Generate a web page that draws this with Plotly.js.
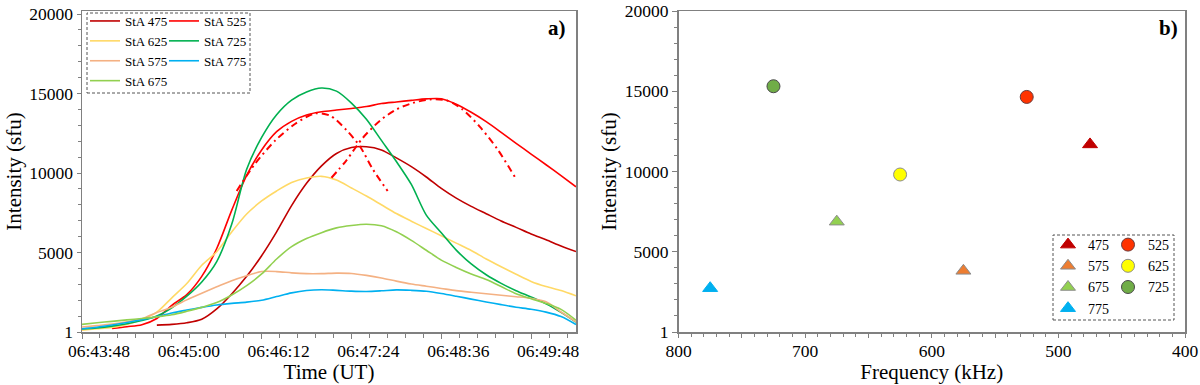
<!DOCTYPE html>
<html><head><meta charset="utf-8">
<script src="https://cdn.plot.ly/plotly-3.0.1.min.js"></script>
<style>html,body{margin:0;padding:0;background:#fff;} #chart{width:1200px;height:385px;}</style>
</head><body><div id="chart"></div>
<script>
// ---------- Panel a) time series ----------
const times = ["06:43:48","06:44:00","06:44:12","06:44:24","06:44:36","06:44:48","06:45:00","06:45:12","06:45:24","06:45:36",
               "06:45:48","06:46:00","06:46:12","06:46:24","06:46:36","06:46:48","06:47:00","06:47:12","06:47:24","06:47:36",
               "06:47:48","06:48:00","06:48:12","06:48:24","06:48:36","06:48:48","06:49:00","06:49:12","06:49:24","06:49:36",
               "06:49:48","06:50:00","06:50:12","06:50:24"];
const sta475 = [null,null,null,null,null,430,480,580,800,1450,2390,3500,4800,6300,7950,9350,10450,11230,11600,11650,
                11450,10950,10400,9750,9030,8420,7900,7440,6980,6580,6160,5800,5410,5060];
const sta525 = [null,null,220,330,460,850,1680,2350,3500,5250,7650,9850,11450,12600,13250,13650,13850,13960,14060,14180,
                14370,14470,14570,14660,14670,14330,13820,13230,12560,11870,11190,10520,9830,9130];
const sta625 = [120,200,290,480,780,1250,2150,3050,4200,5050,6290,7420,8240,8870,9400,9680,9790,9560,9060,8550,
                8000,7450,6970,6510,6050,5590,5130,4590,4100,3630,3180,2860,2610,2280];
const sta725 = [185,260,370,520,720,1000,1520,2250,3150,4430,6770,10230,12240,13670,14590,15100,15350,15150,14400,13380,
                12050,10720,9280,7350,6240,5150,4280,3600,3060,2600,2200,1770,1230,620];
const sta575 = [310,400,500,640,830,1230,1560,2020,2440,2840,3230,3540,3800,3800,3720,3670,3670,3700,3680,3560,
                3400,3200,3020,2880,2740,2600,2500,2410,2310,2220,2120,1900,1260,640];
const sta775 = [200,300,440,600,780,960,1200,1380,1550,1700,1800,1880,2000,2230,2460,2610,2660,2620,2570,2550,
                2590,2650,2620,2560,2420,2250,2070,1890,1720,1560,1430,1250,970,470];
const sta675 = [480,580,670,760,850,950,1080,1300,1550,1850,2330,2920,3650,4590,5370,5880,6250,6550,6700,6780,
                6680,6300,5760,5140,4520,4060,3650,3300,2860,2400,2090,1800,1420,740];
// dash-dot fits of the StA 525 profile
const fit1Times  = ["06:45:52","06:46:07","06:46:23","06:46:39","06:46:55","06:47:07","06:47:20","06:47:31","06:47:41","06:47:53"];
const fit1Values = [8870,10610,12050,13100,13750,13600,12700,11650,10250,8870];
const fit2Times  = ["06:47:08","06:47:20","06:47:33","06:47:47","06:48:00","06:48:13","06:48:27","06:48:41","06:48:53","06:49:07","06:49:21","06:49:35"];
const fit2Values = [9700,10800,12200,13300,14000,14400,14630,14550,14000,12900,11500,9750];

const seriesNames  = ["StA 475","StA 525","StA 625","StA 725","StA 575","StA 775","StA 675"];
const seriesValues = [sta475, sta525, sta625, sta725, sta575, sta775, sta675];
const seriesColors = ["#c00000","#ff0000","#ffd966","#00b050","#f4b183","#00b0f0","#92d050"];
const seriesLegend = ["legend","legend3","legend","legend3","legend","legend3","legend"];

// ---------- Panel b) peak intensity vs frequency ----------
const freqLabels    = ["475","525","575","625","675","725","775"];
const freqs         = [475,525,575,625,675,725,775];
const peakIntensity = [11688,14646,3812,9813,6875,15312,2729];
const peakSymbols   = ["triangle-up","circle","triangle-up","circle","triangle-up","circle","triangle-up"];
const peakColors    = ["#c00000","#ff3300","#ed7d31","#ffff00","#92d050","#70ad47","#00b0f0"];
const peakEdges     = ["#c00000","#6b3b3b","#8c8c8c","#8c8c8c","#8c8c8c","#4a4a4a","#00b0f0"];
const peakLegend    = ["legend2","legend4","legend2","legend4","legend2","legend4","legend2"];

const yTickAlias = {"0":"1"};
const xTickAlias = {"750":"","650":"","550":"","450":""};

const day = "2020-01-01 ";
const toDate = t => day + t;
const AX = "#808080";
const FONT = "'Liberation Serif', 'Times New Roman', serif";

const traces = [];
seriesNames.forEach((n, i) => {
  traces.push({type:"scatter", mode:"lines", name:n, x: times.map(toDate), y: seriesValues[i],
    line:{color: seriesColors[i], width: 1.6, shape:"spline", smoothing:0.8},
    xaxis:"x", yaxis:"y", legend: seriesLegend[i], connectgaps:false});
});
[[fit1Times, fit1Values],[fit2Times, fit2Values]].forEach(([t, v]) => {
  traces.push({type:"scatter", mode:"lines", x: t.map(toDate), y: v, showlegend:false,
    line:{color:"#ff0000", width:2, dash:"7px,4px,2px,4px", shape:"spline", smoothing:0.8},
    xaxis:"x", yaxis:"y"});
});
freqs.forEach((f, i) => {
  traces.push({type:"scatter", mode:"markers", name: freqLabels[i], x:[f], y:[peakIntensity[i]],
    marker:{symbol: peakSymbols[i], size: 13, color: peakColors[i],
            line:{color: peakEdges[i], width: 1}},
    xaxis:"x2", yaxis:"y2", legend: peakLegend[i]});
});

const yTop = 11, yBot = 332, H = 385, W = 1200;
const yDom = [(H - yBot)/H, (H - yTop)/H];
const leftRangeTop = 20000 * (yBot - yTop) / (yBot - 14);

const baseTick = {tickfont:{size:17.5, color:"#000", family:FONT}, showgrid:false, zeroline:false,
  tickcolor:AX, tickwidth:1};
const legendBase = {xanchor:"left", yanchor:"top", orientation:"v",
  bgcolor:"rgba(0,0,0,0)", borderwidth:0, tracegroupgap:0};

const layout = {
  width: W, height: H, margin:{l:0,r:0,t:0,b:0},
  paper_bgcolor:"#fff", plot_bgcolor:"#fff",
  font:{family:FONT, color:"#000"},
  hovermode:false,
  xaxis: Object.assign({}, baseTick, {
    domain:[82/W, 576/W], anchor:"y", type:"date",
    range:[toDate("06:43:48"), toDate("06:50:24")],
    tickmode:"linear", tick0: toDate("06:43:48"), dtick: 72000, tickformat:"%H:%M:%S",
    ticks:"outside", ticklen:5,
    minor:{tick0: toDate("06:43:48"), dtick:14400, ticks:"outside", ticklen:4, tickcolor:AX},
    showline:true, linecolor:AX, linewidth:1.5, mirror:true,
    ticklabelshift: 17, ticklabelstandoff: -3,
    title:{text:"Time (UT)", font:{size:21, family:FONT}, standoff:0}
  }),
  yaxis: Object.assign({}, baseTick, {
    domain: yDom, anchor:"x", range:[0, leftRangeTop],
    tickmode:"linear", tick0:0, dtick:5000, tickformat:"d",
    labelalias: yTickAlias,
    ticks:"outside", ticklen:4,
    minor:{dtick:1000, ticks:"outside", ticklen:3, tickcolor:AX},
    showline:true, linecolor:AX, linewidth:1.5, mirror:true,
    title:{text:"Intensity (sfu)", font:{size:21, family:FONT}, standoff:2}
  }),
  yaxis3: {overlaying:"y", anchor:"x", domain:yDom, range:[0, leftRangeTop], side:"left",
    tickmode:"linear", tick0:0, dtick:5000, ticks:"inside", ticklen:3, tickcolor:AX,
    minor:{dtick:1000, ticks:"inside", ticklen:3, tickcolor:AX},
    showticklabels:false, showline:false, showgrid:false, zeroline:false},
  xaxis2: Object.assign({}, baseTick, {
    domain:[678.5/W, 1185/W], anchor:"y2", range:[800, 400],
    tickmode:"linear", tick0:400, dtick:50, labelalias: xTickAlias,
    ticks:"outside", ticklen:4,
    minor:{dtick:10, ticks:"outside", ticklen:3, tickcolor:AX},
    showline:true, linecolor:AX, linewidth:1.5, mirror:true,
    ticklabelstandoff: -2,
    title:{text:"Frequency (kHz)", font:{size:21, family:FONT}, standoff:0}
  }),
  xaxis3: {overlaying:"x2", anchor:"y2", domain:[678.5/W, 1185/W], range:[800,400],
    tickmode:"linear", tick0:400, dtick:50, ticks:"inside", ticklen:4, tickcolor:AX,
    minor:{dtick:10, ticks:"inside", ticklen:3, tickcolor:AX},
    showticklabels:false, showline:false, showgrid:false, zeroline:false},
  yaxis2: Object.assign({}, baseTick, {
    domain: yDom, anchor:"x2", range:[0, 20000],
    tickmode:"linear", tick0:0, dtick:5000, tickformat:"d",
    labelalias: yTickAlias,
    ticks:"outside", ticklen:5,
    minor:{dtick:1000, ticks:"outside", ticklen:3, tickcolor:AX},
    showline:true, linecolor:AX, linewidth:1.5, mirror:true,
    title:{text:"Intensity (sfu)", font:{size:21, family:FONT}, standoff:2}
  }),
  yaxis4: {overlaying:"y2", anchor:"x2", domain:yDom, range:[0,20000], side:"left",
    tickmode:"linear", tick0:0, dtick:5000, ticks:"inside", ticklen:4, tickcolor:AX,
    minor:{dtick:1000, ticks:"inside", ticklen:4, tickcolor:AX},
    showticklabels:false, showline:false, showgrid:false, zeroline:false},
  legend:  Object.assign({}, legendBase, {x: 85/W,   y:(H-6)/H,   font:{size:13, family:FONT}}),
  legend3: Object.assign({}, legendBase, {x: 164/W,  y:(H-6)/H,   font:{size:13, family:FONT}}),
  legend2: Object.assign({}, legendBase, {x: 1048/W, y:(H-229)/H, font:{size:14, family:FONT}}),
  legend4: Object.assign({}, legendBase, {x: 1108/W, y:(H-229)/H, font:{size:14, family:FONT}}),
  shapes: [
    {type:"rect", xref:"paper", yref:"paper", x0:87/W, x1:250/W, y0:(H-93)/H, y1:(H-13)/H,
     line:{color:"#555", width:1, dash:"3px,2px"}, fillcolor:"rgba(0,0,0,0)"},
    {type:"rect", xref:"paper", yref:"paper", x0:1053/W, x1:1174/W, y0:(H-320)/H, y1:(H-235)/H,
     line:{color:"#555", width:1, dash:"3px,2px"}, fillcolor:"rgba(0,0,0,0)"}
  ],
  annotations: [
    {text:"<b>a)</b>", xref:"paper", yref:"paper", x:557/W, y:(H-28)/H, showarrow:false,
     font:{size:21, family:FONT}, xanchor:"center", yanchor:"middle"},
    {text:"<b>b)</b>", xref:"paper", yref:"paper", x:1168/W, y:(H-28)/H, showarrow:false,
     font:{size:21, family:FONT}, xanchor:"center", yanchor:"middle"}
  ]
};

Plotly.newPlot("chart", traces, layout, {displayModeBar:false, staticPlot:true});
</script>
</body></html>
